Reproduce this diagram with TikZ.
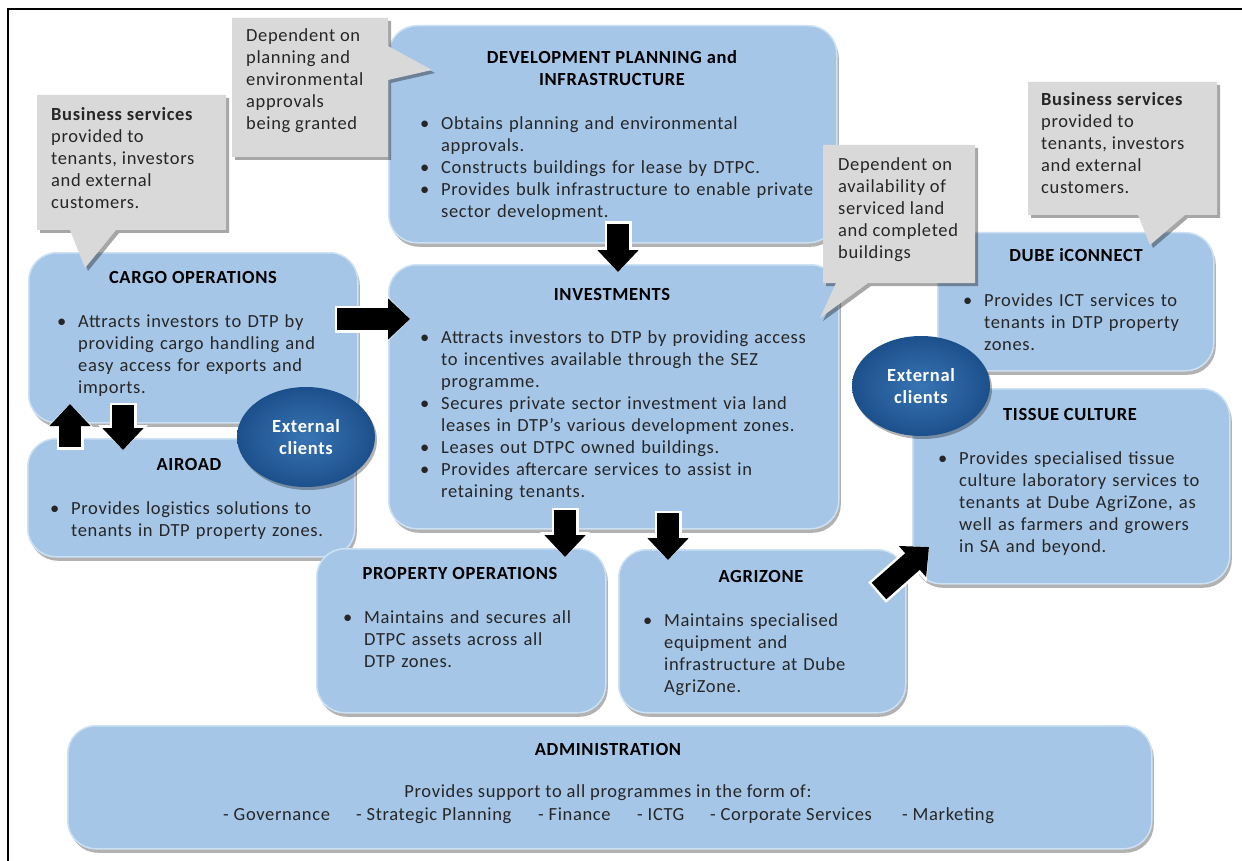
\documentclass[tikz,border=0pt]{standalone}
\usepackage{fontspec}
\setmainfont{Carlito}[LetterSpace=3.5]
\usetikzlibrary{shapes.geometric,shadows,arrows.meta}
\definecolor{boxblue}{RGB}{166,198,231}
\definecolor{boxedge}{RGB}{205,225,244}
\definecolor{callgray}{RGB}{217,217,217}
\definecolor{txt}{RGB}{38,38,38}
\definecolor{ellin}{RGB}{56,116,180}
\definecolor{ellout}{RGB}{28,80,140}
\newcommand\fs{\fontsize{18.5}{22}\selectfont}
\newcommand\bitem[1]{\par\noindent\hangindent=21pt\hangafter=1\strut\makebox[21pt][l]{\textbullet}#1\par}
\tikzset{
  bluebox/.style={draw=boxedge, line width=1.5pt, fill=boxblue, rounded corners=28pt, inner sep=0pt,
    anchor=north west, drop shadow={shadow xshift=2pt, shadow yshift=-4pt, opacity=0.3, fill=black}},
  callout/.style={fill=callgray, drop shadow={shadow xshift=3pt, shadow yshift=-3pt, opacity=0.35, fill=black}},
  title/.style={font=\fs\bfseries, text=black, anchor=base, inner sep=0pt},
  body/.style={anchor=north west, inner sep=0pt, text width=440pt, align=left, font=\fs, text=txt},
  ctext/.style={anchor=north west, inner sep=0pt, align=left, font=\fs, text=txt},
  ell/.style={ellipse, minimum width=138pt, minimum height=100pt, inner color=ellin, outer color=ellout,
    text=white, font=\fs\bfseries, align=center, inner sep=0pt,
    drop shadow={shadow xshift=2pt, shadow yshift=-3pt, opacity=0.3, fill=black}},
  blk/.style={line width=22pt, black, -{Triangle[length=22pt,width=40pt]},
    preaction={draw=white, line width=27pt, -{Triangle[length=25pt,width=48pt]}, shorten <=-2.5pt}},
}
\begin{document}
\begin{tikzpicture}[x=1pt,y=-1pt]
\useasboundingbox (0,0) rectangle (1242,861);
\fill[white] (0,0) rectangle (1242,861);
\draw[line width=1.3pt] (8,861) -- (8,9) -- (1242,9);

% boxes
\node[bluebox, minimum width=448pt, minimum height=217pt] (dev) at (388,25) {};
\node[bluebox, minimum width=329pt, minimum height=170pt] (cargo) at (28,252) {};
\node[bluebox, minimum width=327pt, minimum height=118pt] (airoad) at (27,438) {};
\node[bluebox, minimum width=450pt, minimum height=264pt] (inv) at (388,264) {};
\node[bluebox, minimum width=276pt, minimum height=138pt] (dube) at (937,232) {};
\node[bluebox, minimum width=317pt, minimum height=195pt] (tissue) at (912,388) {};
\node[bluebox, minimum width=289pt, minimum height=164pt] (prop) at (316,548) {};
\node[bluebox, minimum width=287pt, minimum height=163pt] (agri) at (618,549) {};
\node[bluebox, minimum width=1084pt, minimum height=123pt] (admin) at (67,725) {};

% titles
\node[font=\fs\bfseries, align=center, anchor=north, inner sep=0pt] (devt) at (612,47.6) {\strut DEVELOPMENT PLANNING and\\INFRASTRUCTURE};
\node[title] (cargot) at (193,283) {CARGO OPERATIONS};
\node[title] (invt) at (612,300) {INVESTMENTS};
\node[title] (airoadt) at (189,470) {AIROAD};
\node[title] (dubet) at (1076,261) {DUBE iCONNECT};
\node[title] (tissuet) at (1070,420) {TISSUE CULTURE};
\node[title] (propt) at (460,579) {PROPERTY OPERATIONS};
\node[title] (agrit) at (761,582) {AGRIZONE};
\node[title] (admint) at (608,755) {ADMINISTRATION};

% bodies
\node[body] (devb) at (420,107.6) {%
\bitem{Obtains planning and environmental\newline approvals.}%
\bitem{Constructs buildings for lease by DTPC.}%
\bitem{Provides bulk infrastructure to enable private\newline sector development.}};
\node[body] (cargob) at (57,305.6) {%
\bitem{Attracts investors to DTP by\newline providing cargo handling and\newline easy access for exports and\newline imports.}};
\node[body] (invb) at (420,321.6) {%
\bitem{Attracts investors to DTP by providing access\newline to incentives available through the SEZ\newline programme.}%
\bitem{Secures private sector investment via land\newline leases in DTP's various development zones.}%
\bitem{Leases out DTPC owned buildings.}%
\bitem{Provides aftercare services to assist in\newline retaining tenants.}};
\node[body] (airoadb) at (50,492.6) {%
\bitem{Provides logistics solutions to\newline tenants in DTP property zones.}};
\node[body] (dubeb) at (963,284.6) {%
\bitem{Provides ICT services to\newline tenants in DTP property\newline zones.}};
\node[body] (tissueb) at (938,442.6) {%
\bitem{Provides specialised tissue\newline culture laboratory services to\newline tenants at Dube AgriZone, as\newline well as farmers and growers\newline in SA and beyond.}};
\node[body] (propb) at (343,601.6) {%
\bitem{Maintains and secures all\newline DTPC assets across all\newline DTP zones.}};
\node[body] (agrib) at (643,604.6) {%
\bitem{Maintains specialised\newline equipment and\newline infrastructure at Dube\newline AgriZone.}};
\node[font=\fs, text=txt, anchor=base, inner sep=0pt] (adminb) at (608,797) {Provides support to all programmes in the form of:};
\node[font=\fs, text=txt, anchor=base west, inner sep=0pt] (l1) at (223,820) {- Governance};
\node[font=\fs, text=txt, anchor=base west, inner sep=0pt] (l2) at (356,820) {- Strategic Planning};
\node[font=\fs, text=txt, anchor=base west, inner sep=0pt] (l3) at (538,820) {- Finance};
\node[font=\fs, text=txt, anchor=base west, inner sep=0pt] (l4) at (637,820) {- ICTG};
\node[font=\fs, text=txt, anchor=base west, inner sep=0pt] (l5) at (710,820) {- Corporate Services};
\node[font=\fs, text=txt, anchor=base west, inner sep=0pt] (l6) at (902,820) {- Marketing};

% callouts
\path[callout] (232,18) -- (388,18) -- (388,46) -- (432,70) -- (388,80) -- (388,157) -- (232,157) -- cycle;
\node[ctext] (c1) at (246,25.6) {\strut Dependent on\\planning and\\environmental\\approvals\\being granted};
\path[callout] (37,95) -- (226,95) -- (226,230) -- (116,230) -- (85,268) -- (70,230) -- (37,230) -- cycle;
\node[ctext] (c2) at (51,104.6) {\strut\textbf{Business services}\\provided to\\tenants, investors\\and external\\customers.};
\path[callout] (823,145) -- (975,145) -- (975,283) -- (868,283) -- (820,318) -- (836,283) -- (823,283) -- cycle;
\node[ctext] (c3) at (838,154.6) {\strut Dependent on\\availability of\\serviced land\\and completed\\buildings};
\path[callout] (1028,82) -- (1217,82) -- (1217,215) -- (1185,215) -- (1150,245) -- (1138,215) -- (1028,215) -- cycle;
\node[ctext] (c4) at (1041,89.6) {\strut\textbf{Business services}\\provided to\\tenants, investors\\and external\\customers.};

% ellipses
\node[ell] (ext1) at (306,437) {External\\clients};
\node[ell] (ext2) at (921,386) {External\\clients};

% arrows
\coordinate (a1s) at (618,224); \coordinate (a1e) at (618,272);
\coordinate (a2s) at (337,319); \coordinate (a2e) at (410,319);
\coordinate (a3s) at (70,447);  \coordinate (a3e) at (70,404);
\coordinate (a4s) at (123,405); \coordinate (a4e) at (123,450);
\coordinate (a5s) at (565,510); \coordinate (a5e) at (565,557);
\coordinate (a6s) at (668,513); \coordinate (a6e) at (668,560);
\coordinate (a7s) at (879,591); \coordinate (a7e) at (929,547);
\draw[blk] (a1s) -- (a1e);
\draw[blk] (a2s) -- (a2e);
\draw[blk] (a3s) -- (a3e);
\draw[blk] (a4s) -- (a4e);
\draw[blk] (a5s) -- (a5e);
\draw[blk] (a6s) -- (a6e);
\draw[blk] (a7s) -- (a7e);
\end{tikzpicture}
\end{document}
